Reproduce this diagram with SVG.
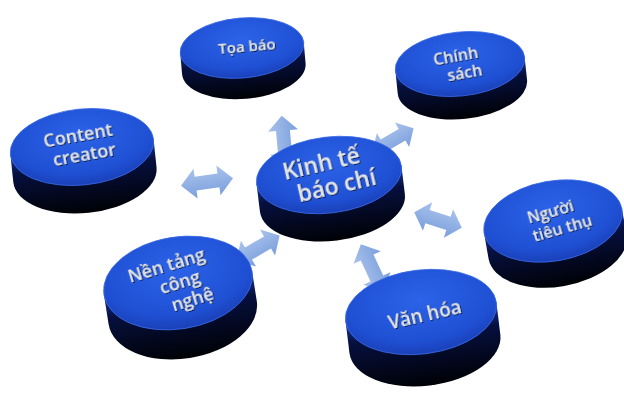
<svg xmlns="http://www.w3.org/2000/svg" width="624" height="399" viewBox="0 0 624 399">
<defs>
<radialGradient id="face" cx="50%" cy="35%" r="65%">
<stop offset="0" stop-color="#2c63e8"/>
<stop offset="0.75" stop-color="#1f50d4"/>
<stop offset="1" stop-color="#1a40b8"/>
</radialGradient>
<linearGradient id="side" x1="0" y1="0" x2="0" y2="1">
<stop offset="0" stop-color="#1736a0"/>
<stop offset="0.3" stop-color="#06103f"/>
<stop offset="1" stop-color="#000105"/>
</linearGradient>
<linearGradient id="arr" x1="0" y1="0" x2="0" y2="1">
<stop offset="0" stop-color="#a9c2ec"/>
<stop offset="1" stop-color="#7a9fdc"/>
</linearGradient>
<filter id="emb" x="-10%" y="-20%" width="120%" height="150%">
<feDropShadow dx="0.8" dy="1" stdDeviation="0.5" flood-color="#000" flood-opacity="0.8"/>
</filter>
<path id="dbl" d="M -25,0 L -11,-15 L -11,-7 L 11,-7 L 11,-15 L 25,0 L 11,15 L 11,7 L -11,7 L -11,15 Z"/>
</defs>
<style>
.arrow{fill:url(#arr);}
.face{fill:url(#face);stroke:#3b6be6;stroke-width:0.8;}
.side{fill:url(#side);}
.lbl{font-family:"Open Sans",Lato,"Liberation Sans",sans-serif;font-weight:600;fill:#e2e5ea;text-anchor:middle;filter:url(#emb);}
</style>
<rect width="624" height="399" fill="#ffffff"/>
<g id="connectors">
<use href="#dbl" class="arrow" transform="translate(284,142) rotate(-95) scale(1.05,1)"/>
<use href="#dbl" class="arrow" transform="translate(393,140) rotate(-30) scale(0.95,0.95)"/>
<use href="#dbl" class="arrow" transform="translate(207,182) rotate(-8) scale(1.05,1)"/>
<use href="#dbl" class="arrow" transform="translate(438,220) rotate(18) scale(1,1)"/>
<use href="#dbl" class="arrow" transform="translate(258,248) rotate(-30) scale(1,1)"/>
<use href="#dbl" class="arrow" transform="translate(372,268) rotate(-115) scale(1.05,1)"/>
</g>
<g id="node-toa-bao" transform="translate(242,48) rotate(-5)">
<path class="side" d="M -62,0 L -62,21 A 62 30 0 0 0 62,21 L 62,0 Z"/>
<ellipse class="face" cx="0" cy="0" rx="62" ry="30"/>
<text class="lbl" x="5" y="4" font-size="15">Tọa báo</text>
</g>
<g id="node-chinh-sach" transform="translate(460,64) rotate(-6)">
<path class="side" d="M -65,0 L -65,23 A 65 32 0 0 0 65,23 L 65,0 Z"/>
<ellipse class="face" cx="0" cy="0" rx="65" ry="32"/>
<text class="lbl" font-size="16" transform="rotate(-4)"><tspan x="-3" y="-3">Chính</tspan><tspan x="3" y="15">sách</tspan></text>
</g>
<g id="node-content-creator" transform="translate(82,147) rotate(-6)">
<path class="side" d="M -72,0 L -72,28 A 72 38 0 0 0 72,28 L 72,0 Z"/>
<ellipse class="face" cx="0" cy="0" rx="72" ry="38"/>
<text class="lbl" font-size="18" transform="rotate(-4)"><tspan x="-2" y="-6">Content</tspan><tspan x="1" y="14">creator</tspan></text>
</g>
<g id="node-kinh-te-bao-chi" transform="translate(329,175) rotate(-7)">
<path class="side" d="M -73,0 L -73,28 A 73 38 0 0 0 73,28 L 73,0 Z"/>
<ellipse class="face" cx="0" cy="0" rx="73" ry="38"/>
<text class="lbl" font-size="23" transform="rotate(-6)"><tspan x="-5" y="-5">Kinh tế</tspan><tspan x="5" y="20">báo chí</tspan></text>
</g>
<g id="node-nguoi-tieu-thu" transform="translate(553,221) rotate(-10)">
<path class="side" d="M -70,0 L -70,26 A 70 40 0 0 0 70,26 L 70,0 Z"/>
<ellipse class="face" cx="0" cy="0" rx="70" ry="40"/>
<text class="lbl" font-size="16" transform="rotate(-6)"><tspan x="0" y="-4">Người</tspan><tspan x="7" y="15">tiêu thụ</tspan></text>
</g>
<g id="node-nen-tang-cong-nghe" transform="translate(178,283) rotate(-9)">
<path class="side" d="M -75,0 L -75,30 A 75 46 0 0 0 75,30 L 75,0 Z"/>
<ellipse class="face" cx="0" cy="0" rx="75" ry="46"/>
<text class="lbl" font-size="18" transform="rotate(-8)"><tspan x="-6" y="-14">Nền tảng</tspan><tspan x="2" y="6">công</tspan><tspan x="9" y="26">nghệ</tspan></text>
</g>
<g id="node-van-hoa" transform="translate(421,312) rotate(-7)">
<path class="side" d="M -76,0 L -76,32 A 76 42 0 0 0 76,32 L 76,0 Z"/>
<ellipse class="face" cx="0" cy="0" rx="76" ry="42"/>
<text class="lbl" x="3" y="10" font-size="19" transform="rotate(-6)">Văn hóa</text>
</g>
</svg>
